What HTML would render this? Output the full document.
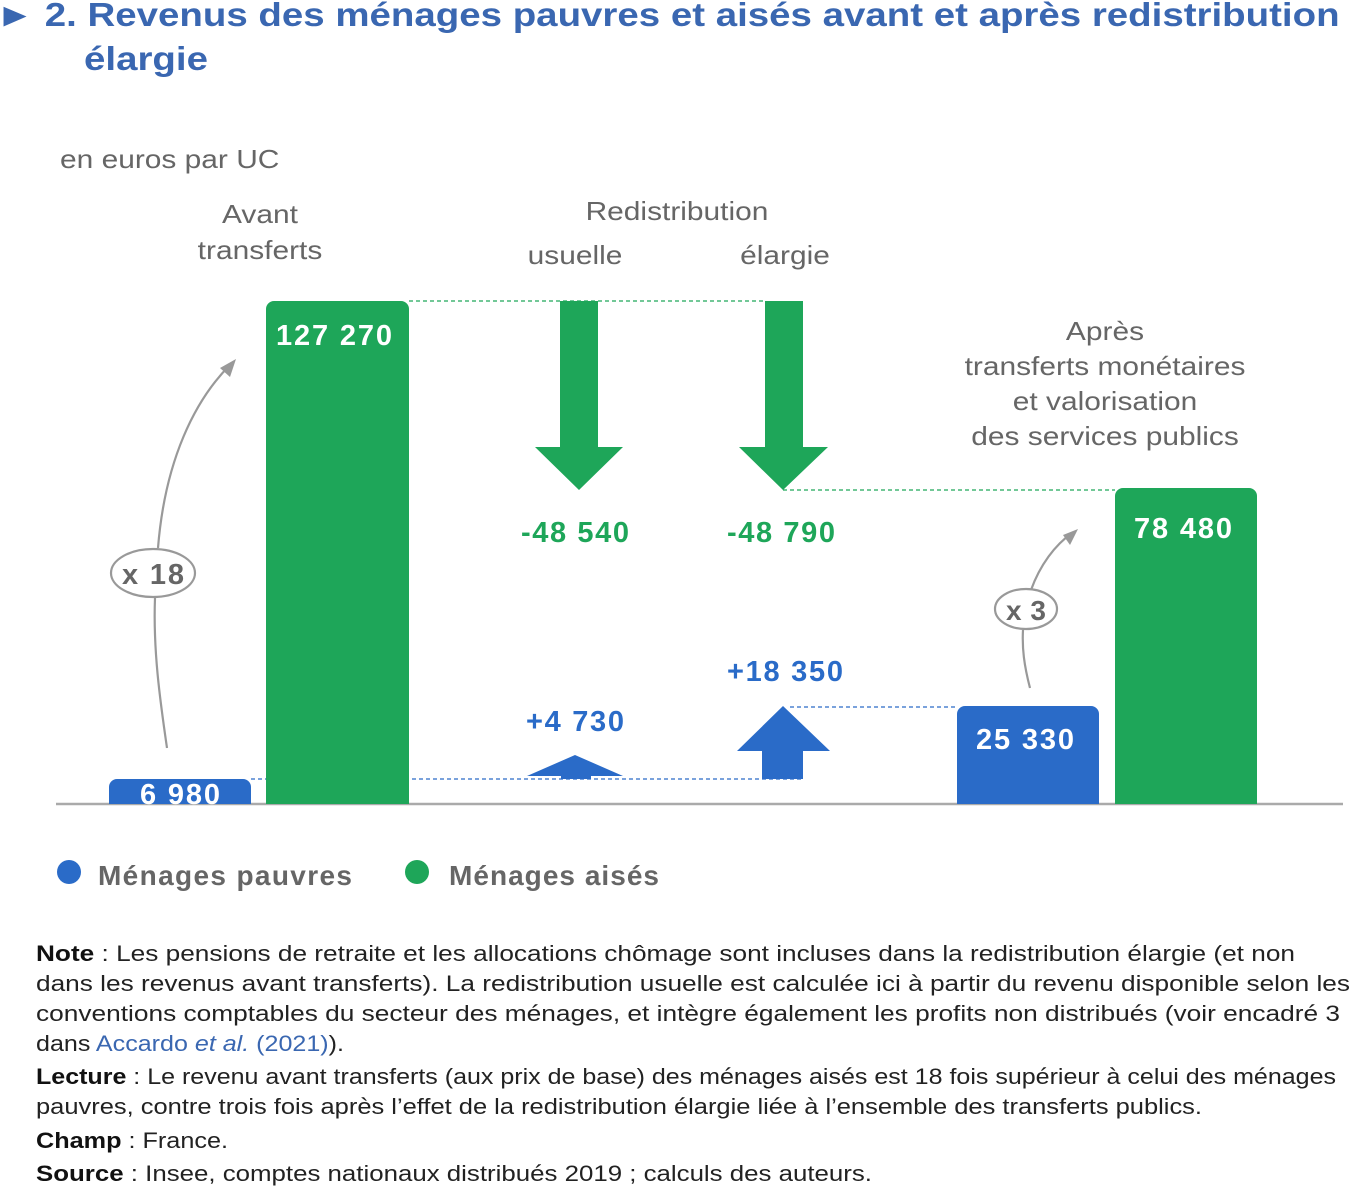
<!DOCTYPE html>
<html><head><meta charset="utf-8"><style>
body{margin:0;width:1353px;height:1188px;background:#fff;font-family:"Liberation Sans","DejaVu Sans",sans-serif;position:relative;overflow:hidden}
.a{position:absolute;white-space:nowrap}
.t{color:#3a67b1;font-weight:bold;font-size:33px;transform:scaleX(1.165);transform-origin:0 0}
.g{color:#666;font-size:26px;text-align:center;transform:scaleX(1.15);transform-origin:50% 0}
</style></head><body>
<div class="a t" style="left:-4px;top:-4px">► 2. Revenus des ménages pauvres et aisés avant et après redistribution</div>
<div class="a t" style="left:84px;top:40px">élargie</div>
<div class="a g" style="left:60px;top:144px;text-align:left;transform-origin:0 0">en euros par UC</div>
<div class="a g" style="left:170px;top:196px;width:180px;line-height:36px">Avant<br>transferts</div>
<div class="a g" style="left:560px;top:196px;width:234px">Redistribution</div>
<div class="a g" style="left:505px;top:240px;width:140px">usuelle</div>
<div class="a g" style="left:715px;top:240px;width:140px">élargie</div>
<div class="a g" style="left:930px;top:314px;width:350px;line-height:35px">Après<br>transferts monétaires<br>et valorisation<br>des services publics</div>
<svg class="a" style="left:0;top:0" width="1353" height="1188">
<line x1="56" y1="804" x2="1343" y2="804" stroke="#aaa" stroke-width="2.5"/>
<g stroke-width="1.3" stroke-dasharray="4,3" fill="none">
<line x1="409" y1="301" x2="765" y2="301" stroke="#1ea659"/>
<line x1="783" y1="490" x2="1115" y2="490" stroke="#1ea659"/>
<line x1="251" y1="779" x2="803" y2="779" stroke="#2a6bc8"/>
<line x1="790" y1="707" x2="957" y2="707" stroke="#2a6bc8"/>
</g>
<path d="M109,804V787a8,8 0 0 1 8,-8H243a8,8 0 0 1 8,8V804Z" fill="#2a6bc8"/>
<path d="M266,804V309a8,8 0 0 1 8,-8H401a8,8 0 0 1 8,8V804Z" fill="#1ea659"/>
<path d="M957,804V714a8,8 0 0 1 8,-8H1091a8,8 0 0 1 8,8V804Z" fill="#2a6bc8"/>
<path d="M1115,804V496a8,8 0 0 1 8,-8H1249a8,8 0 0 1 8,8V804Z" fill="#1ea659"/>
<path d="M560,301H598V447H623L579,490L535,447H560Z" fill="#1ea659"/>
<path d="M765,301H803V447H828L783,490L739,447H765Z" fill="#1ea659"/>
<path d="M527,776L575,755L623,776H591V779H561V776Z" fill="#2a6bc8"/>
<path d="M737,751L783,706L830,751H803V779H762V751Z" fill="#2a6bc8"/>
<g fill="none" stroke="#999" stroke-width="2.2">
<path d="M167,748C160,700 153,650 155,598"/>
<path d="M158,548C165,460 195,400 230,365"/>
<path d="M1030,688C1024,665 1022,648 1023,630"/>
<path d="M1031,590C1040,565 1055,545 1072,533"/>
<ellipse cx="153" cy="573" rx="42" ry="24" fill="#fff"/>
<ellipse cx="1026" cy="609" rx="31" ry="20" fill="#fff"/>
</g>
<path d="M236,359L230,377L220,368Z" fill="#999"/>
<path d="M1078,529L1070,545L1063,535Z" fill="#999"/>
<text x="153" y="584" font-size="29" font-weight="bold" fill="#666" text-anchor="middle" font-family="Liberation Sans" textLength="62">x 18</text>
<text x="1026" y="620" font-size="28" font-weight="bold" fill="#666" text-anchor="middle" font-family="Liberation Sans" textLength="40">x 3</text>
<g font-weight="bold" font-size="29" font-family="Liberation Sans" text-anchor="middle">
<text x="180" y="804" fill="#fff" textLength="80">6 980</text>
<text x="334" y="345" fill="#fff" textLength="116">127 270</text>
<text x="1025" y="749" fill="#fff" textLength="98">25 330</text>
<text x="1183" y="538" fill="#fff" textLength="98">78 480</text>
<text x="575" y="542" fill="#1ea659" textLength="108">-48 540</text>
<text x="781" y="542" fill="#1ea659" textLength="108">-48 790</text>
<text x="575" y="731" fill="#2a6bc8" textLength="98">+4 730</text>
<text x="785" y="681" fill="#2a6bc8" textLength="116">+18 350</text>
</g>
<circle cx="69" cy="872" r="12" fill="#2a6bc8"/>
<circle cx="417" cy="872" r="12" fill="#1ea659"/>
<g font-weight="bold" font-size="28" fill="#666" font-family="Liberation Sans">
<text x="98" y="885" textLength="254">Ménages pauvres</text>
<text x="449" y="885" textLength="210">Ménages aisés</text>
</g>
<g font-size="22" fill="#222" font-family="Liberation Sans" lengthAdjust="spacingAndGlyphs">
<text x="36" y="961" textLength="1259" lengthAdjust="spacingAndGlyphs"><tspan font-weight="bold" fill="#111">Note</tspan> : Les pensions de retraite et les allocations chômage sont incluses dans la redistribution élargie (et non</text>
<text x="36" y="991" textLength="1314" lengthAdjust="spacingAndGlyphs">dans les revenus avant transferts). La redistribution usuelle est calculée ici à partir du revenu disponible selon les</text>
<text x="36" y="1021" textLength="1304" lengthAdjust="spacingAndGlyphs">conventions comptables du secteur des ménages, et intègre également les profits non distribués (voir encadré 3</text>
<text x="36" y="1051" textLength="308" lengthAdjust="spacingAndGlyphs">dans <tspan fill="#3a67b1">Accardo <tspan font-style="italic">et al.</tspan> (2021)</tspan>).</text>
<text x="36" y="1084" textLength="1300" lengthAdjust="spacingAndGlyphs"><tspan font-weight="bold" fill="#111">Lecture</tspan> : Le revenu avant transferts (aux prix de base) des ménages aisés est 18 fois supérieur à celui des ménages</text>
<text x="36" y="1114" textLength="1166" lengthAdjust="spacingAndGlyphs">pauvres, contre trois fois après l’effet de la redistribution élargie liée à l’ensemble des transferts publics.</text>
<text x="36" y="1148" textLength="192" lengthAdjust="spacingAndGlyphs"><tspan font-weight="bold" fill="#111">Champ</tspan> : France.</text>
<text x="36" y="1181" textLength="836" lengthAdjust="spacingAndGlyphs"><tspan font-weight="bold" fill="#111">Source</tspan> : Insee, comptes nationaux distribués 2019 ; calculs des auteurs.</text>
</g>
</svg>
</body></html>
